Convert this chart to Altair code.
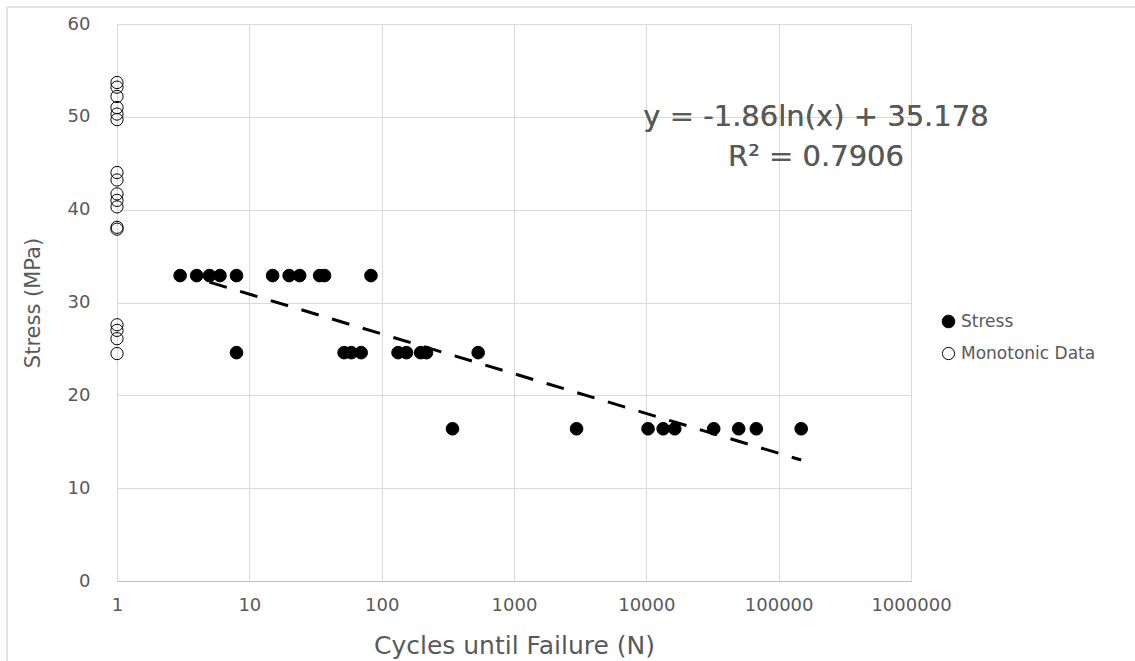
import altair as alt
import pandas as pd

# ---- data ----
stress_N = [3, 4, 5, 6, 8, 15, 20, 24, 34, 37, 83,
            8, 52, 59, 70, 133, 154, 197, 218, 536,
            343, 2970, 10300, 13400, 16400, 32300, 49900, 67800, 148000]
stress_S = [32.9, 32.9, 32.9, 32.9, 32.9, 32.9, 32.9, 32.9, 32.9, 32.9, 32.9,
            24.6, 24.6, 24.6, 24.6, 24.6, 24.6, 24.6, 24.6, 24.6,
            16.4, 16.4, 16.4, 16.4, 16.4, 16.4, 16.4, 16.4, 16.4]

mono_N = [1, 1, 1, 1, 1, 1, 1, 1, 1, 1, 1, 1, 1, 1, 1, 1, 1]
mono_S = [53.7, 53.2, 52.2, 51.0, 50.3, 49.7,
          44.0, 43.2, 41.7, 41.0, 40.3, 38.1, 37.9,
          27.6, 27.0, 26.1, 24.5]

trend_N = [5, 148000]
trend_S = [32.19, 13.03]

eq_lines = ["y = -1.86ln(x) + 35.178", "R\u00b2 = 0.7906"]

x_ticks = [1, 10, 100, 1000, 10000, 100000, 1000000]
y_ticks = [0, 10, 20, 30, 40, 50, 60]

series_names = ["Stress", "Monotonic Data"]

FONT = "DejaVu Sans"
GREY = "#595959"
GRID = "#d9d9d9"

pts = pd.concat([
    pd.DataFrame({"N": stress_N, "S": stress_S, "series": series_names[0]}),
    pd.DataFrame({"N": mono_N, "S": mono_S, "series": series_names[1]}),
])
trend = pd.DataFrame({"N": trend_N, "S": trend_S})

W, H = 794, 557

xscale = alt.Scale(type="log", domain=[1, 1000000], nice=False)
yscale = alt.Scale(domain=[0, 60], nice=False)

xaxis = alt.Axis(values=x_ticks, format="d", title="Cycles until Failure (N)",
                 grid=True, gridColor=GRID, gridWidth=1, ticks=False,
                 domain=True, domainColor="#bfbfbf", domainWidth=1,
                 labelFont=FONT, labelFontSize=18, labelColor=GREY, labelPadding=15,
                 labelFlush=False, labelOverlap=False,
                 titleFont=FONT, titleFontSize=25, titleFontWeight="normal", titleColor=GREY,
                 titleX=W / 2, titleY=64, titleAlign="center", titleBaseline="middle")
yaxis = alt.Axis(values=y_ticks, title="Stress (MPa)",
                 grid=True, gridColor=GRID, gridWidth=1, ticks=False, domain=False,
                 labelFont=FONT, labelFontSize=18, labelColor=GREY, labelPadding=27,
                 labelFlush=False,
                 titleFont=FONT, titleFontSize=21, titleFontWeight="normal", titleColor=GREY,
                 titleX=-84, titleY=H / 2, titleAngle=-90, titleAlign="center",
                 titleBaseline="middle")

leg = alt.Legend(title=None, orient="none", legendX=823, legendY=289,
                 labelFont=FONT, labelFontSize=17, labelColor=GREY,
                 symbolStrokeWidth=1, rowPadding=14, padding=0, labelOffset=4)

points = alt.Chart(pts).mark_circle(opacity=1, strokeWidth=1).encode(
    x=alt.X("N:Q", scale=xscale, axis=xaxis),
    y=alt.Y("S:Q", scale=yscale, axis=yaxis),
    fill=alt.Fill("series:N",
                  scale=alt.Scale(domain=series_names, range=["#000000", "transparent"]),
                  legend=leg),
    stroke=alt.Stroke("series:N",
                      scale=alt.Scale(domain=series_names, range=["#000000", "#000000"]),
                      legend=leg),
    size=alt.Size("series:N",
                  scale=alt.Scale(domain=series_names, range=[160, 150]),
                  legend=leg),
)

line = alt.Chart(trend).mark_line(color="black", strokeWidth=3, strokeDash=[18, 14]).encode(
    x=alt.X("N:Q", scale=xscale),
    y=alt.Y("S:Q", scale=yscale),
)

eq1 = alt.Chart(trend).mark_text(font=FONT, fontSize=29, color=GREY, align="center",
                                 baseline="middle", text=eq_lines[0]).encode(
    x=alt.value(699), y=alt.value(93))
eq2 = alt.Chart(trend).mark_text(font=FONT, fontSize=29, color=GREY, align="center",
                                 baseline="middle", text=eq_lines[1]).encode(
    x=alt.value(699), y=alt.value(133))

frame_top = alt.Chart(trend).mark_rule(color=GRID, strokeWidth=1).encode(
    x=alt.value(-110), x2=alt.value(1018), y=alt.value(-17))
frame_left = alt.Chart(trend).mark_rule(color=GRID, strokeWidth=1).encode(
    x=alt.value(-110), y=alt.value(-17), y2=alt.value(637))

chart = alt.layer(frame_top, frame_left, points, line, eq1, eq2).properties(
    width=W, height=H,
    autosize=alt.AutoSizeParams(type="none"),
    padding={"left": 117, "top": 24, "right": 224, "bottom": 80},
    background="white",
).configure_view(stroke=None)

chart.save("out.html", embed_options={"renderer": "svg", "actions": False})
